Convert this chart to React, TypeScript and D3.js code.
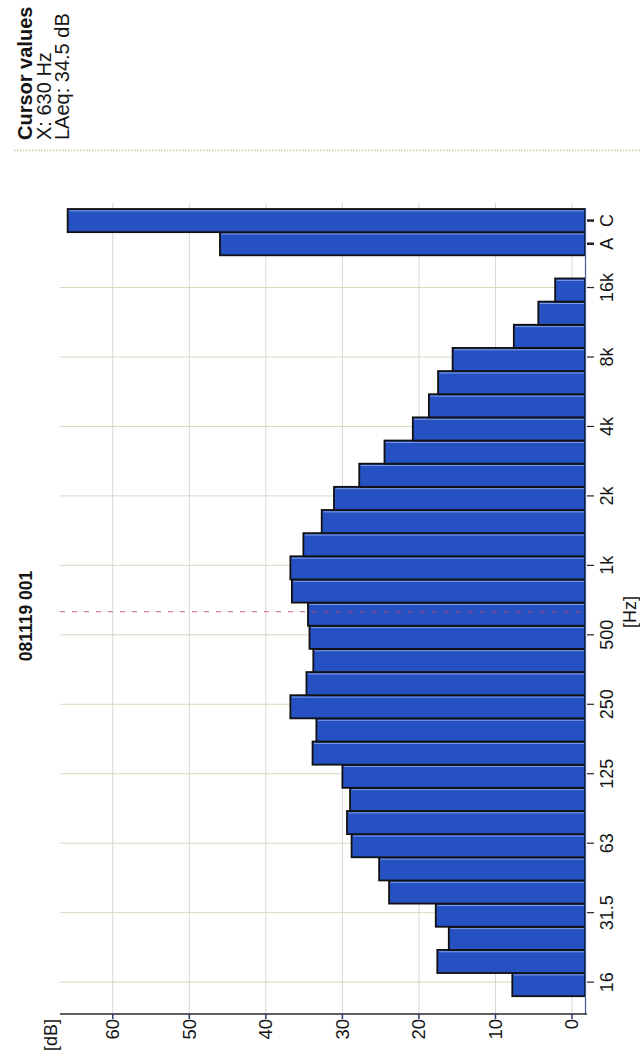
import React from 'react';
import * as d3 from 'd3';

const bands = ['16','20','25','31.5','40','50','63','80','100','125','160','200','250','315','400','500','630','800','1k','1.25k','1.6k','2k','2.5k','3.15k','4k','5k','6.3k','8k','10k','12.5k','16k'];
const bandLevels = [7.8,17.6,16.1,17.8,23.9,25.2,28.8,29.4,29.0,30.0,33.9,33.4,36.8,34.7,33.8,34.3,34.5,36.6,36.8,35.1,32.7,31.1,27.8,24.5,20.8,18.7,17.5,15.6,7.6,4.4,2.2];
const totals = ['A','C'];
const totalLevels = [46.0, 65.9];
const freqTicks = ['16','31.5','63','125','250','500','1k','2k','4k','8k','16k'];
const dbTicks = [0,10,20,30,40,50,60];
const cursorBand = '630';
const titleText = '081119 001';
const cursorLines = ['Cursor values', 'X: 630 Hz', 'LAeq: 34.5 dB'];

const FONT = '"Liberation Sans", Arial, Helvetica, sans-serif';

export default function App() {
  const W = 640, H = 1063;
  const plotLeft = 60, plotRight = 585, plotTop = 203, plotBottom = 1014;
  const slots = [...bands, 'gap', ...totals];
  const levels = [...bandLevels, null, ...totalLevels];

  const x = d3.scaleLinear().domain([-1.7, 66.9]).range([plotRight, plotLeft]);
  const y = d3.scaleBand<string>().domain(slots).range([996.2, 209]).paddingInner(0);
  const bw = y.bandwidth();
  const tickY = (s: string) => (y(s) as number) + bw / 2 - 2.5;

  const barColor = '#2651c2';
  const ink = '#151515';

  return (
    <svg width={W} height={H} style={{ position: 'absolute', left: 0, top: 0, background: '#fff' }} fontFamily={FONT}>
      {/* cursor info */}
      {cursorLines.map((t, i) => (
        <text key={t} transform={`translate(${[32, 50.5, 69][i]},140) rotate(-90)`} fontSize={20}
          fontWeight={i === 0 ? 'bold' : 'normal'} fill={ink} textAnchor="start">{t}</text>
      ))}
      <line x1={14} x2={640} y1={150.5} y2={150.5} stroke="#c9c9a0" strokeWidth={1.3} strokeDasharray="1.5,1.5" />

      {/* title */}
      <text transform={`translate(32,616) rotate(-90)`} fontSize={17.5} fontWeight="bold" fill={ink} textAnchor="middle">{titleText}</text>

      {/* grid */}
      {dbTicks.map(d => (
        <line key={'gv' + d} x1={x(d)} x2={x(d)} y1={plotTop} y2={plotBottom} stroke="#d6d6d6" strokeWidth={1} />
      ))}
      {freqTicks.map(f => (
        <line key={'gh' + f} x1={plotLeft} x2={plotRight} y1={tickY(f)} y2={tickY(f)} stroke="#d8d8c0" strokeWidth={1} />
      ))}

      {/* bars */}
      {slots.map((s, i) => {
        const v = levels[i];
        if (v == null) return null;
        const bx = x(v);
        const by = y(s) as number;
        return (
          <g key={'b' + s}>
            <rect x={bx} y={by} width={plotRight - bx} height={bw} fill={barColor} stroke="#111" strokeWidth={1.8} />
            <line x1={bx + 1.5} x2={plotRight - 1} y1={by + 1.9} y2={by + 1.9} stroke="#9fb8ef" strokeWidth={0.9} opacity={0.85} />
          </g>
        );
      })}

      {/* cursor line */}
      <line x1={plotLeft} x2={plotRight} y1={tickY(cursorBand)} y2={tickY(cursorBand)} stroke="#d03a50" strokeWidth={1} strokeDasharray="5,7" opacity={0.8} />

      {/* axes */}
      <line x1={plotRight + 0.5} x2={plotRight + 0.5} y1={plotTop + 5} y2={plotBottom} stroke="#3b5c9c" strokeWidth={1.2} />
      <line x1={plotLeft} x2={plotRight + 2} y1={plotBottom} y2={plotBottom} stroke="#2a2a2a" strokeWidth={1.5} />

      {/* right ticks & labels */}
      {[...freqTicks, ...totals].map(f => {
        const ty = totals.includes(f) ? (y(f) as number) + bw / 2 : tickY(f);
        return (
          <g key={'t' + f}>
            <line x1={plotRight + 2} x2={plotRight + 9} y1={ty} y2={ty} stroke="#222" strokeWidth={totals.includes(f) ? 2.5 : 1.2} />
            <text transform={`translate(613,${ty}) rotate(-90)`} fontSize={18} fill={ink} textAnchor="middle">{f}</text>
          </g>
        );
      })}
      <text transform={`translate(636,612) rotate(-90)`} fontSize={18} fill={ink} textAnchor="middle">[Hz]</text>

      {/* bottom ticks & labels */}
      {dbTicks.map(d => (
        <g key={'bt' + d}>
          <line x1={x(d)} x2={x(d)} y1={plotBottom} y2={plotBottom + 5} stroke="#2a3a6a" strokeWidth={1.5} />
          <text transform={`translate(${x(d) + 6.5},${plotBottom + 5}) rotate(-90)`} fontSize={18.5} fill={ink} textAnchor="end">{d}</text>
        </g>
      ))}
      <text transform={`translate(57,${plotBottom + 5}) rotate(-90)`} fontSize={18} fill={ink} textAnchor="end">[dB]</text>
    </svg>
  );
}
